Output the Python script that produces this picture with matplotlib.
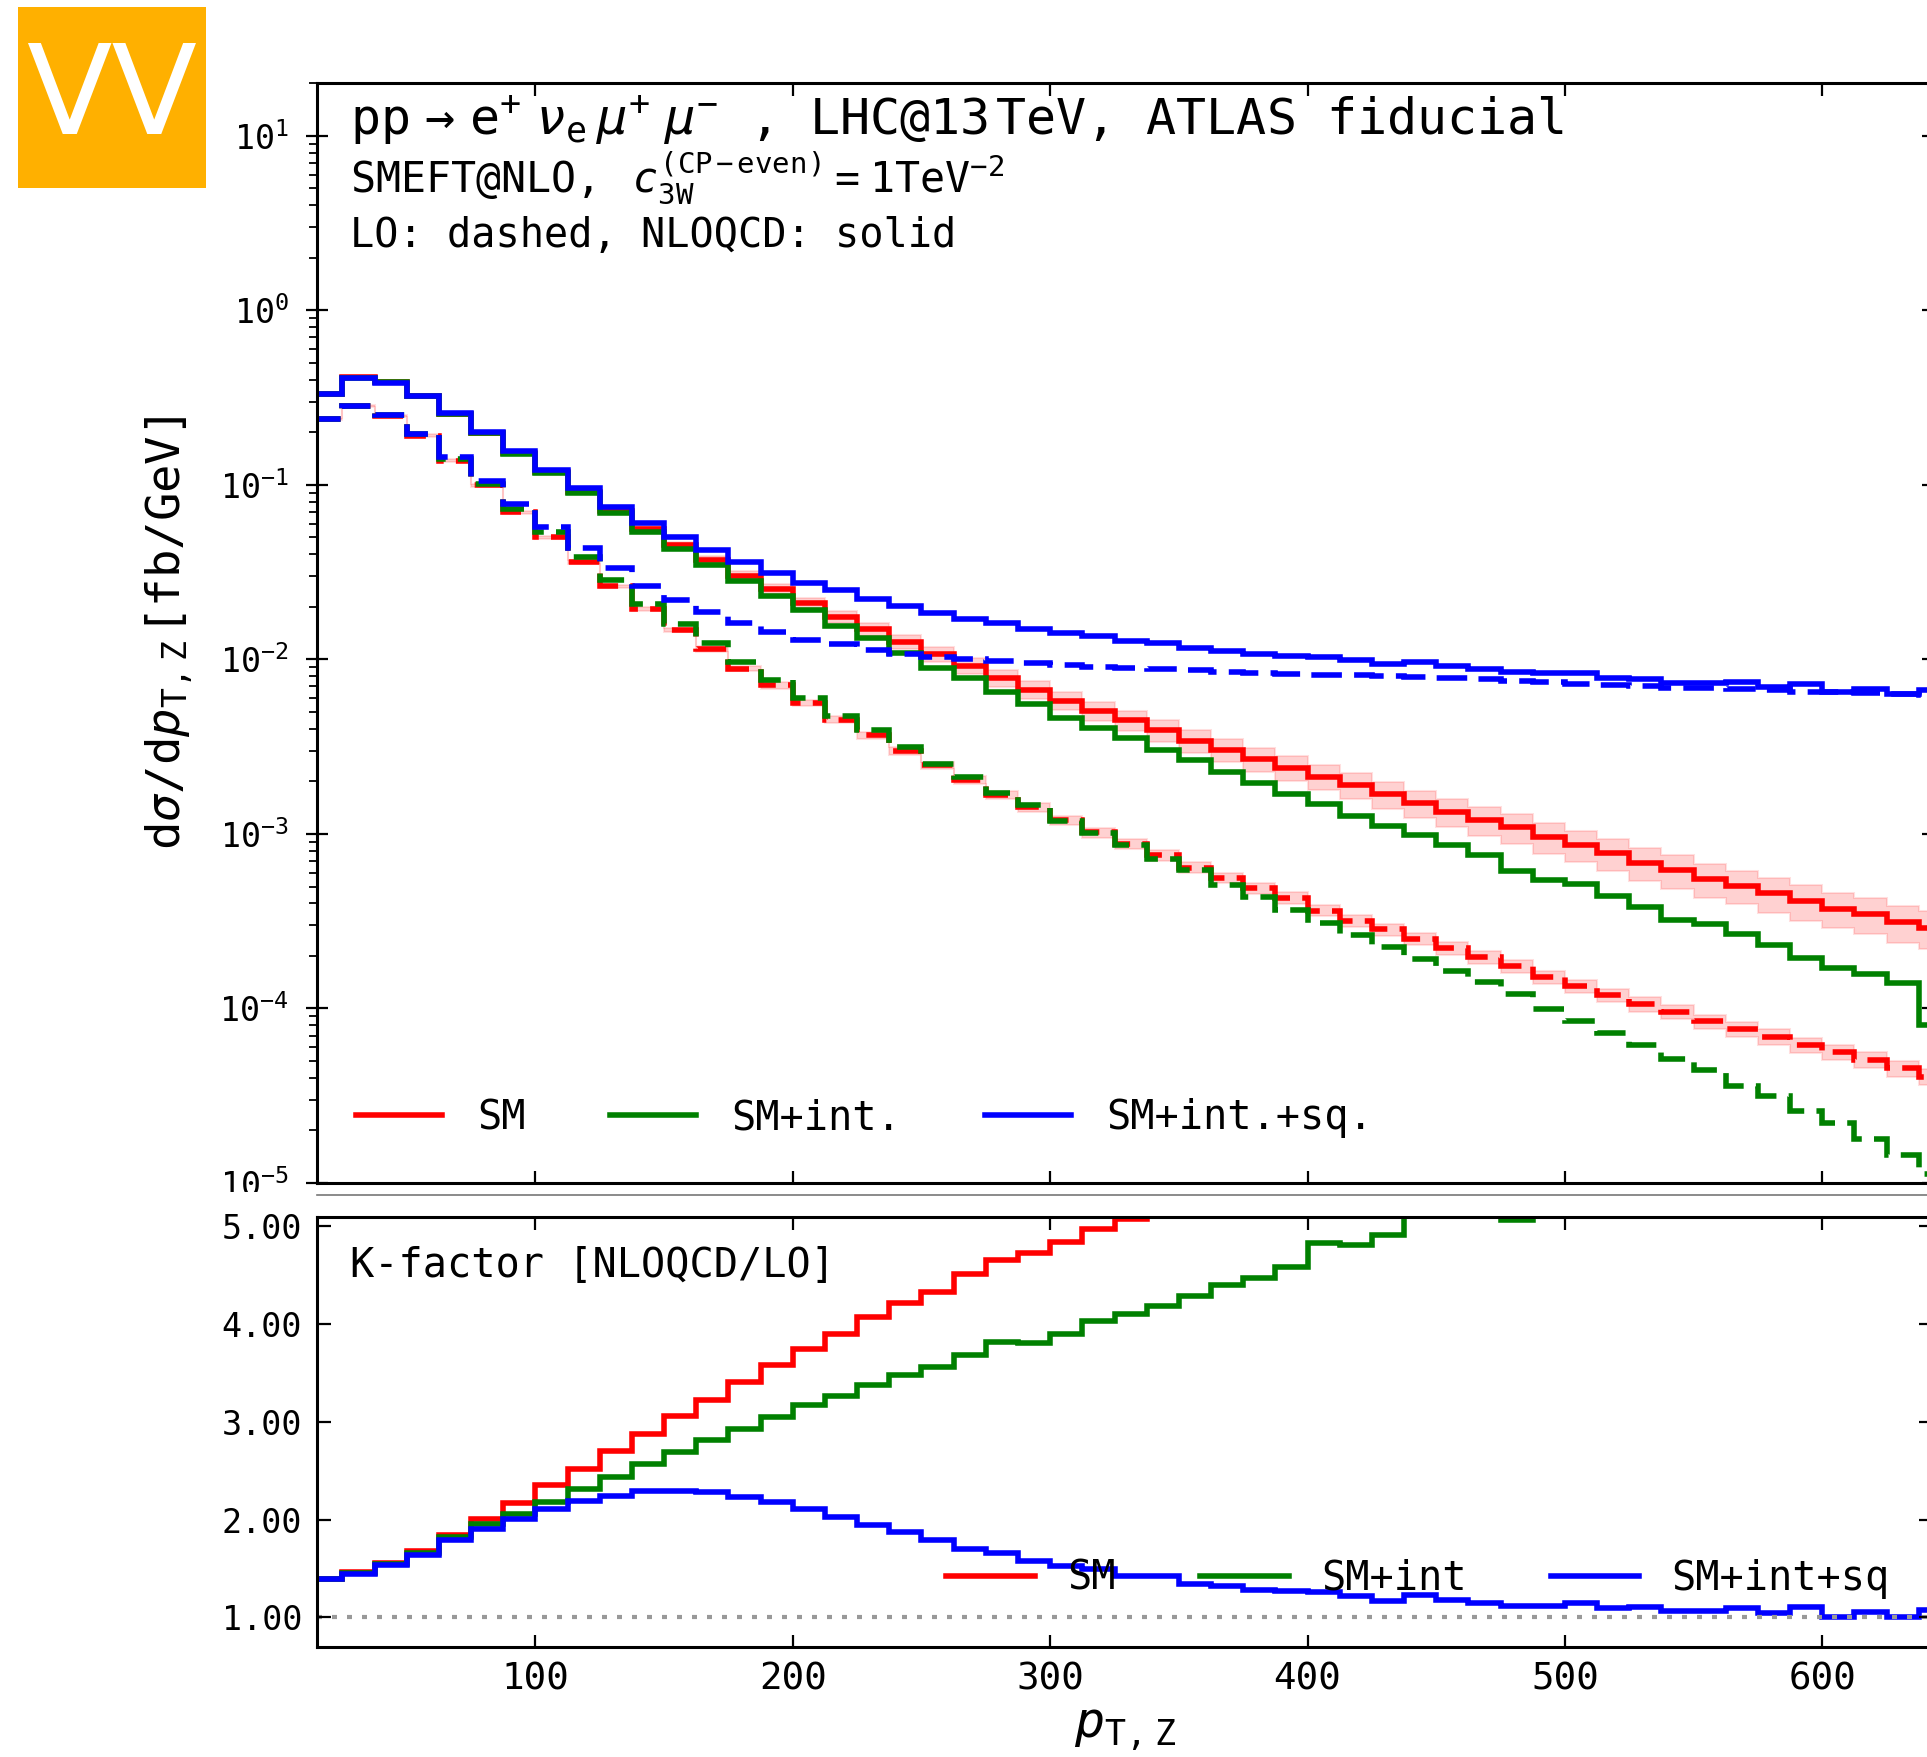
import numpy as np
import matplotlib
matplotlib.use("Agg")
from matplotlib import pyplot as plt
from matplotlib.patches import Rectangle
from matplotlib.lines import Line2D

W, H = 1927, 1757

# p_T,Z binning: 12.5 GeV bins from 12.5 to 650 GeV
bin_width = 12.5
edges = 12.5 + bin_width * np.arange(52)

# LO distributions [fb/GeV] (dashed)
lo_sm = [0.238, 0.283, 0.249, 0.192, 0.138, 0.0993, 0.0699, 0.0502, 0.0361, 0.0262,
         0.0195, 0.0148, 0.0115, 0.00885, 0.0071, 0.00562, 0.00451, 0.00367, 0.00299, 0.00247,
         0.00204, 0.00168, 0.00142, 0.00120, 0.00102, 0.00088, 0.000757, 0.000642, 0.000562, 0.000488,
         0.00043, 0.000364, 0.000319, 0.000284, 0.00025, 0.000222, 0.000196, 0.000175, 0.000151, 0.000134,
         0.000119, 0.000106, 0.0000957, 0.0000843, 0.0000762, 0.0000689, 0.0000616, 0.0000563, 0.0000509,
         0.0000455, 0.0000405]
lo_int = [0.238, 0.283, 0.251, 0.195, 0.140, 0.101, 0.073, 0.0537, 0.0386, 0.0284,
          0.0208, 0.0160, 0.0124, 0.00965, 0.00758, 0.00603, 0.00477, 0.00392, 0.00315, 0.00252,
          0.00212, 0.00171, 0.00146, 0.00119, 0.00101, 0.00087, 0.00072, 0.000618, 0.000512, 0.000436,
          0.000368, 0.000309, 0.000264, 0.000225, 0.000193, 0.000165, 0.000141, 0.000121, 0.0000991, 0.0000851,
          0.0000724, 0.0000616, 0.0000514, 0.0000442, 0.0000361, 0.0000315, 0.0000257, 0.0000221, 0.0000178,
          0.0000144, 0.0000112]
lo_sq = [0.238, 0.283, 0.251, 0.197, 0.144, 0.106, 0.078, 0.0578, 0.0436, 0.0333,
         0.0264, 0.0220, 0.0187, 0.0162, 0.0144, 0.0130, 0.0123, 0.0114, 0.0108, 0.0103,
         0.0100, 0.00975, 0.00950, 0.00925, 0.00910, 0.00898, 0.00877, 0.00865, 0.00849, 0.00837,
         0.00825, 0.00817, 0.00810, 0.00800, 0.00791, 0.00780, 0.00769, 0.00754, 0.00747, 0.00724,
         0.00718, 0.00700, 0.00689, 0.00682, 0.00676, 0.00665, 0.00655, 0.00649, 0.00643, 0.00632, 0.00622]

# K-factors NLOQCD/LO (off-scale bins from the upper panel)
k_sm = [1.39, 1.46, 1.553, 1.683, 1.844, 2.008, 2.168, 2.35, 2.52, 2.70,
        2.88, 3.06, 3.227, 3.41, 3.58, 3.75, 3.90, 4.07, 4.22, 4.33,
        4.51, 4.66, 4.73, 4.84, 4.97, 5.08, 5.2, 5.33, 5.41, 5.53,
        5.58, 5.85, 5.96, 5.95, 6.0, 6.05, 6.15, 6.25, 6.35, 6.45,
        6.5, 6.46, 6.48, 6.55, 6.64, 6.63, 6.72, 6.64, 6.82, 6.88, 7.16]
k_int = [1.39, 1.45, 1.55, 1.66, 1.82, 1.957, 2.06, 2.185, 2.315, 2.44,
         2.57, 2.69, 2.82, 2.93, 3.05, 3.17, 3.27, 3.38, 3.48, 3.56,
         3.68, 3.82, 3.81, 3.90, 4.03, 4.10, 4.19, 4.29, 4.40, 4.47,
         4.59, 4.83, 4.81, 4.91, 5.13, 5.27, 5.37, 5.07, 5.51, 6.10,
         6.10, 6.22, 6.25, 6.90, 7.40, 7.33, 7.55, 7.74, 8.88, 9.72, 7.15]
k_sq = [1.39, 1.445, 1.537, 1.642, 1.793, 1.906, 2.008, 2.11, 2.196, 2.247,
        2.291, 2.298, 2.281, 2.23, 2.178, 2.11, 2.032, 1.946, 1.875, 1.796,
        1.696, 1.657, 1.577, 1.53, 1.50, 1.426, 1.42, 1.34, 1.32, 1.28,
        1.267, 1.26, 1.22, 1.17, 1.23, 1.18, 1.15, 1.12, 1.12, 1.15,
        1.093, 1.11, 1.069, 1.069, 1.093, 1.042, 1.11, 1.002, 1.053, 1.0, 1.08]

# relative scale uncertainty of the SM predictions
unc_nlo_sm = [0.02, 0.02, 0.02, 0.02, 0.02, 0.025, 0.025, 0.03, 0.03, 0.035,
              0.04, 0.045, 0.05, 0.06, 0.065, 0.07, 0.08, 0.085, 0.09, 0.10,
              0.105, 0.11, 0.115, 0.12, 0.125, 0.13, 0.14, 0.145, 0.15, 0.155,
              0.16, 0.165, 0.17, 0.175, 0.18, 0.185, 0.19, 0.195, 0.20, 0.205,
              0.21, 0.21, 0.215, 0.22, 0.22, 0.225, 0.23, 0.23, 0.235, 0.24, 0.24]
unc_lo_sm = [0.01, 0.01, 0.01, 0.015, 0.015, 0.02, 0.02, 0.02, 0.025, 0.025,
             0.03, 0.03, 0.035, 0.035, 0.04, 0.04, 0.045, 0.045, 0.05, 0.05,
             0.055, 0.055, 0.06, 0.06, 0.065, 0.065, 0.07, 0.07, 0.07, 0.075,
             0.075, 0.075, 0.08, 0.08, 0.08, 0.085, 0.085, 0.085, 0.09, 0.09,
             0.09, 0.095, 0.095, 0.095, 0.10, 0.10, 0.10, 0.10, 0.105, 0.105, 0.105]

labels_top = ["SM", "SM+int.", "SM+int.+sq."]
labels_bottom = ["SM", "SM+int", "SM+int+sq"]
colors = ["#ff0000", "#008000", "#0000ff"]

plt.rcParams['font.family'] = ['DejaVu Sans Mono', 'DejaVu Sans']
plt.rcParams['mathtext.fontset'] = 'custom'
plt.rcParams['mathtext.rm'] = 'DejaVu Sans Mono'
plt.rcParams['mathtext.it'] = 'DejaVu Sans Mono:italic'
plt.rcParams['mathtext.bf'] = 'DejaVu Sans Mono:bold'
plt.rcParams['mathtext.sf'] = 'DejaVu Sans Mono'

LW = 4.0
DASH = (0, (5.5, 2.2))


def px_box(left, top, right, bottom):
    return [left / W, 1 - bottom / H, (right - left) / W, (bottom - top) / H]


def fx(x):
    return x / W


def fy(y):
    return 1 - y / H


fig = plt.figure(figsize=(W / 100, H / 100), dpi=100)

ax = fig.add_axes(px_box(316.7, 83.4, 1932.9, 1183.0))
ax2 = fig.add_axes(px_box(316.7, 1216.7, 1932.9, 1646.7))

lo = [np.array(lo_sm), np.array(lo_int), np.array(lo_sq)]
kf = [np.array(k_sm), np.array(k_int), np.array(k_sq)]
nlo = [l * k for l, k in zip(lo, kf)]

# scale-uncertainty bands of the SM predictions
band_kw = dict(fill=True, color="#ff0000", alpha=0.18, lw=0)
ax.stairs(nlo[0] * (1 + np.array(unc_nlo_sm)), edges, baseline=nlo[0] * (1 - np.array(unc_nlo_sm)), **band_kw)
ax.stairs(lo[0] * (1 + np.array(unc_lo_sm)), edges, baseline=lo[0] * (1 - np.array(unc_lo_sm)), **band_kw)
for ref, unc in ((nlo[0], unc_nlo_sm), (lo[0], unc_lo_sm)):
    for sgn in (1, -1):
        ax.stairs(ref * (1 + sgn * np.array(unc)), edges, baseline=None, color="#ff0000", alpha=0.12, lw=1.5)

for i in range(3):
    ax.stairs(lo[i], edges, baseline=None, color=colors[i], lw=LW, linestyle=DASH)
    ax.stairs(nlo[i], edges, baseline=None, color=colors[i], lw=LW)
    ax2.stairs(kf[i], edges, baseline=None, color=colors[i], lw=LW)

ax2.axhline(1.0, color="#999999", lw=3, linestyle=(0, (1.2, 2.4)), zorder=1)

# axes ranges and ticks
ax.set_yscale('log')
ax.set_ylim(1e-5, 20)
ax2.set_ylim(0.7, 5.1)
for a in (ax, ax2):
    a.set_xlim(15, 643)
    a.set_xticks([100, 200, 300, 400, 500, 600])
    for s in a.spines.values():
        s.set_linewidth(2.2)
    a.tick_params(axis='x', which='both', direction='in', top=True, bottom=True,
                  length=9, width=1.6, labelsize=27, pad=10.5)
    a.tick_params(axis='x', which='minor', bottom=False, top=False)
ax.tick_params(axis='x', labelbottom=False)
ax.tick_params(axis='y', which='major', direction='inout', left=True, right=True,
               length=16, width=1.6, labelsize=24, pad=12)
ax.tick_params(axis='y', which='minor', direction='out', left=True, right=False,
               length=6, width=1.3)
ax2.set_yticks([1, 2, 3, 4, 5])
ax2.set_yticklabels(["%.2f" % v for v in [1, 2, 3, 4, 5]])
ax2.tick_params(axis='y', direction='in', left=True, right=True,
                length=10, width=1.6, labelsize=24, pad=10.5)

# texts
fig.text(fx(350), fy(135),
         r"$\mathrm{pp}\;\rightarrow\;\mathrm{e}^{+}\;\,\nu_{\mathrm{e}}\;\mu^{+}\;\,\mu^{-}$ , LHC@13$\,$TeV, ATLAS fiducial",
         fontsize=36, va='baseline')
fig.text(fx(350), fy(193), r"SMEFT@NLO, $\;c_{\mathrm{3W}}^{(\mathrm{CP-even})}\,=\,1\mathrm{TeV}^{-2}$",
         fontsize=30, va='baseline')
fig.text(fx(350), fy(247), "LO: dashed, NLOQCD: solid", fontsize=29, va='baseline')
fig.text(fx(350), fy(1277), "K-factor [NLOQCD/LO]", fontsize=29, va='baseline')

fig.text(fx(170), (fy(83.4) + fy(1183)) / 2,
         r"$\mathrm{d}\sigma/\mathrm{d}p_{\mathrm{T,\,Z}}\,[\mathrm{fb/GeV}]$",
         fontsize=34, rotation=90, ha='center', va='center')
fig.text(fx(1124.8), fy(1738), r"$p_{\mathrm{T,\,Z}}$", fontsize=36, ha='center', va='baseline')

# legends
handles = [Line2D([], [], color=c, lw=LW) for c in colors]
ax.legend(handles, labels_top, ncol=3, loc='center left', frameon=False, fontsize=29,
          bbox_to_anchor=(fx(356), fy(1118)), bbox_transform=fig.transFigure,
          borderpad=0, borderaxespad=0, handlelength=2.13, handletextpad=0.87, columnspacing=2.1)
ax2.legend(handles, labels_bottom, ncol=3, loc='center left', frameon=False, fontsize=29,
           bbox_to_anchor=(fx(946), fy(1579)), bbox_transform=fig.transFigure,
           borderpad=0, borderaxespad=0, handlelength=2.2, handletextpad=0.8, columnspacing=2.1)

# gap between the panels
fig.add_artist(Rectangle((0, fy(1213)), 1, fy(1192) - fy(1213), transform=fig.transFigure,
                         facecolor='white', edgecolor='none', zorder=5))
fig.add_artist(Line2D([fx(316.7), 1], [fy(1195), fy(1195)], transform=fig.transFigure,
                      color='#777777', lw=1.2, zorder=6))

# logo box
fig.add_artist(Rectangle((fx(18), fy(188)), fx(206) - fx(18), fy(7) - fy(188), transform=fig.transFigure,
                         facecolor='#ffb000', edgecolor='none'))
fig.text(fx(112), fy(100), "VV", color='white', fontsize=90, family='DejaVu Sans',
         ha='center', va='center')

fig.savefig("out.png", dpi=100)
